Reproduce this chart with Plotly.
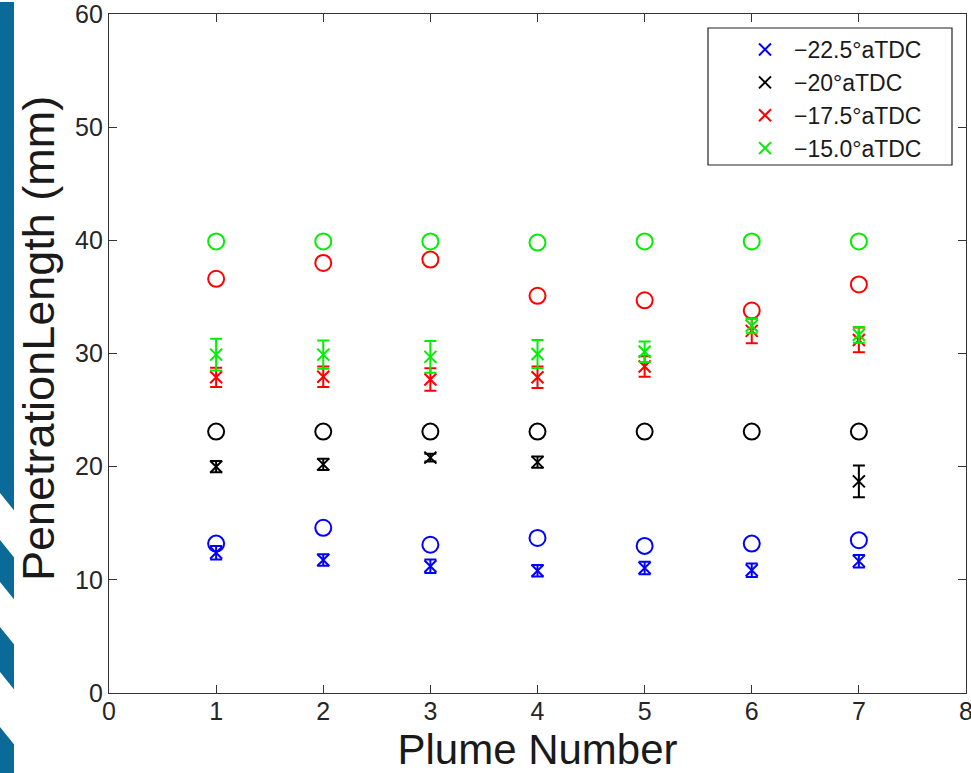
import plotly.graph_objects as go

# Plume index along the x axis
plumes = [1, 2, 3, 4, 5, 6, 7]

# Series labels (crank angle)
labels = ["\u221222.5\u00b0aTDC", "\u221220\u00b0aTDC", "\u221217.5\u00b0aTDC", "\u221215.0\u00b0aTDC"]
colors = ["#0000ff", "#000000", "#ff0000", "#00ee00"]

# Reference penetration length (open circles), mm
circ_225 = [13.2, 14.6, 13.1, 13.7, 13.0, 13.2, 13.5]
circ_200 = [23.1, 23.1, 23.1, 23.1, 23.1, 23.1, 23.1]
circ_175 = [36.6, 38.0, 38.3, 35.1, 34.7, 33.8, 36.1]
circ_150 = [39.9, 39.9, 39.9, 39.8, 39.9, 39.9, 39.9]

# Measured mean penetration length (crosses) and spread, mm
mean_225 = [12.4, 11.75, 11.2, 10.8, 11.05, 10.85, 11.65]
err_225 = [0.6, 0.5, 0.6, 0.5, 0.55, 0.6, 0.55]
mean_200 = [20.0, 20.2, 20.8, 20.4, None, None, 18.7]
err_200 = [0.5, 0.5, 0.35, 0.5, None, None, 1.4]
mean_175 = [27.9, 27.95, 27.7, 27.9, 28.85, 32.0, 31.2]
err_175 = [0.85, 0.9, 1.0, 0.95, 0.9, 1.1, 1.1]
mean_150 = [29.9, 29.9, 29.7, 29.95, 30.15, 32.45, 31.65]
err_150 = [1.4, 1.25, 1.4, 1.25, 0.9, 0.65, 0.7]

circles = [circ_225, circ_200, circ_175, circ_150]
means = [mean_225, mean_200, mean_175, mean_150]
errs = [err_225, err_200, err_175, err_150]

W, H = 971, 773
L, R, T, B = 109, 5, 14, 80
PW, PH = W - L - R, H - T - B


def px(x):
    return (x - L) / PW


def py(y):
    return 1 - (y - T) / PH


fig = go.Figure()

for c, col in zip(circles, colors):
    fig.add_trace(go.Scatter(
        x=plumes, y=c, mode="markers", showlegend=False, hoverinfo="skip",
        marker=dict(symbol="circle-open", size=16, color=col, line=dict(width=2, color=col)),
    ))

for lab, m, e, col in zip(labels, means, errs, colors):
    fig.add_trace(go.Scatter(
        x=plumes, y=m, mode="markers", name=lab, legendgroup=lab,
        marker=dict(symbol="x-thin-open", size=12, color=col, line=dict(width=2, color=col)),
        error_y=dict(type="data", array=e, visible=True, color=col, thickness=2, width=6),
    ))

shapes = []
# Decorative band along the left edge
shapes.append(dict(type="rect", xref="paper", yref="paper", x0=px(0), x1=px(14), y0=py(773), y1=py(2),
                   fillcolor="#0b6a98", line=dict(width=0), layer="below"))
for a, b in [(493, 540), (582, 627), (672, 727)]:
    d = 18
    path = "M {} {} L {} {} L {} {} L {} {} Z".format(
        px(0), py(a), px(14.5), py(a + d), px(14.5), py(b + d), px(0), py(b))
    shapes.append(dict(type="path", xref="paper", yref="paper", path=path,
                       fillcolor="white", line=dict(width=0), layer="below"))
# Legend frame
shapes.append(dict(type="rect", xref="paper", yref="paper", x0=px(708), x1=px(952), y0=py(165), y1=py(28),
                   fillcolor="white", line=dict(width=1.2, color="#222222"), layer="above"))

axis_common = dict(
    showgrid=False, zeroline=False, showline=True, linecolor="#333333", linewidth=1.2,
    mirror="ticks", ticks="inside", ticklen=8, tickwidth=1, tickcolor="#333333",
    ticklabeloverflow="allow",
    tickfont=dict(family="Liberation Sans, Arial", size=25, color="#262626"),
)

fig.update_layout(
    width=W, height=H,
    margin=dict(l=L, r=R, t=T, b=B, autoexpand=False),
    paper_bgcolor="white", plot_bgcolor="white",
    shapes=shapes,
    showlegend=True,
    legend=dict(x=px(736), y=py(28), xanchor="left", yanchor="top",
                bgcolor="rgba(0,0,0,0)", borderwidth=0, tracegroupgap=0, itemwidth=48,
                font=dict(family="Liberation Sans, Arial", size=23, color="#1a1a1a")),
    xaxis=dict(range=[0, 8], dtick=1, tick0=0, ticklabelstandoff=-4,
               title=dict(text="Plume Number", standoff=10,
                          font=dict(family="Liberation Sans, Arial", size=42, color="#1a1a1a")),
               **axis_common),
    yaxis=dict(range=[0, 60], dtick=10, tick0=0, **axis_common),
    annotations=[dict(
        text="PenetrationLength (mm)", textangle=-90, showarrow=False,
        xref="paper", yref="paper", x=px(38), y=py(339), xanchor="center", yanchor="middle",
        font=dict(family="Liberation Sans, Arial", size=45, color="#1a1a1a"),
    )],
)

fig.write_html("out.html")
